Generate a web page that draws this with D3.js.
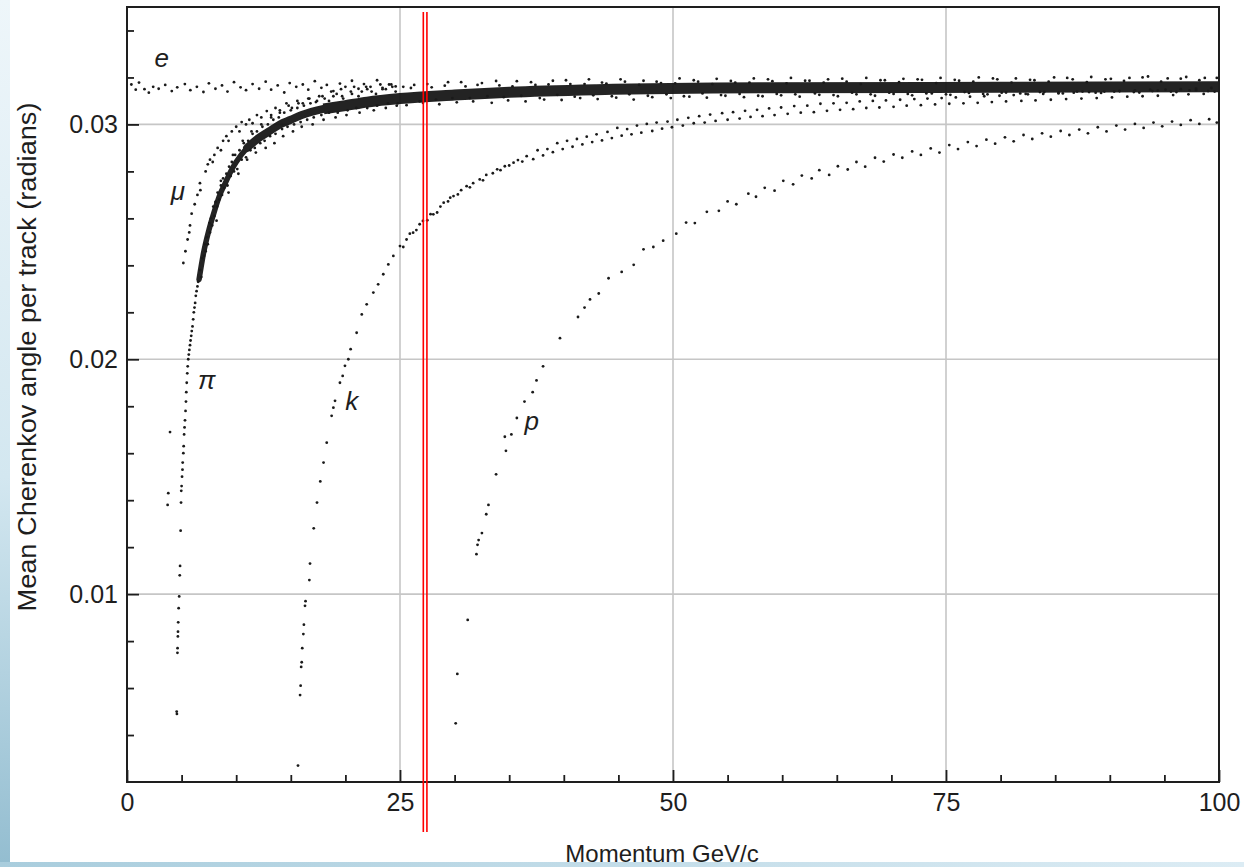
<!DOCTYPE html>
<html><head><meta charset="utf-8">
<script src="https://cdn.jsdelivr.net/npm/d3@7"></script>
<style>
body{margin:0;background:#fff}
svg{display:block}
text{font-family:"Liberation Sans",Arial,Helvetica,sans-serif;fill:#1e1e1e}
</style>
</head><body><svg id="c" width="1244" height="867"></svg>
<script>
// ---------- axes ----------
const xTickValues = [0, 25, 50, 75, 100];
const xMinorTicks = [5,10,15,20,30,35,40,45,55,60,65,70,80,85,90,95];
const yTickValues = [0.01, 0.02, 0.03];
const yMinorTicks = [0.004,0.006,0.008,0.012,0.014,0.016,0.018,0.022,0.024,0.026,0.028,0.032,0.034];
const xGrid = [25, 50, 75];
const yGrid = [0.01, 0.02, 0.03];
const xTitle = "Momentum GeV/c";
const yTitle = "Mean Cherenkov angle per track (radians)";
const markerMomentum = [27.3];

// ---------- particle labels ----------
const labelNames = ["e", "μ", "π", "k", "p"];
const labelP = [3.17, 4.67, 7.3, 20.58, 37.06];
const labelA = [0.03243, 0.02678, 0.01875, 0.01786, 0.01699];

// ---------- data [momentum GeV/c, angle rad] ----------
const electron = [[0.4,.0317],[0.8,.03148],[1.1,.03178],[1.6,.0315],[2.0,.03135],[2.4,.0316],[2.9,.03152],[3.5,.03168],[4.1,.03142],[4.6,.03158],[5.3,.03172],[5.8,.03146],[6.4,.0316],[7.0,.03138],[7.5,.03175],[8.1,.03152],[8.7,.03166],[9.2,.0314],[9.8,.0318],[10.4,.03158],[10.9,.03146],[11.5,.03172],[12.1,.03152],[12.7,.03182],[13.2,.03148],[13.8,.03166],[14.4,.03136],[14.9,.03176],[15.5,.0316],[16.1,.0317],[16.6,.03148],[17.2,.03184],[17.8,.03156],[18.3,.03168],[18.9,.03142],[19.5,.03174],[20.0,.0316],[20.6,.03186],[21.2,.03152],[21.7,.03172],[22.3,.0316],[22.9,.03188],[23.4,.03156],[24.0,.0317],[24.6,.03162]];

const muon = [[3.72,.0138],[3.78,.0143],[3.94,.0169],[5.16,.0241],[5.35,.0246],[5.55,.0251],[5.7,.0254],[5.77,.0257],[5.92,.0262],[6.2,.0266],[6.45,.0270],[6.68,.0275],[6.72,.0272],[7.2,.0280],[7.4,.0283],[7.6,.0285],[7.85,.0284],[8.0,.0287],[8.3,.0290],[8.6,.0289],[8.8,.0293],[9.1,.0295],[9.3,.0293],[9.6,.0297],[10.0,.0299],[10.3,.0297],[10.5,.0301],[10.9,.0300],[11.2,.0302],[11.5,.03005],[11.9,.0304],[12.3,.0303],[12.8,.03057],[13.2,.0304],[13.6,.0307],[14.0,.0306],[14.6,.0309],[15.1,.0307],[15.6,.0310],[16.1,.0309],[16.7,.0311],[17.3,.03095],[17.9,.0312],[18.5,.0310],[19.2,.0313],[19.8,.0311],[20.5,.0314],[21.2,.0312],[22.0,.0315],[22.8,.0313],[23.7,.0315],[24.6,.0314]];

const pionLow = [[4.55,.0050],[4.57,.0049],[4.62,.0075],[4.63,.0077],[4.66,.0082],[4.67,.0084],[4.69,.0088],[4.73,.0094],[4.78,.0099],[4.83,.0108],[4.86,.0112],[4.91,.0127],[4.95,.0139],[4.97,.0144],[5.0,.0146],[5.04,.0150],[5.08,.0153],[5.1,.0156],[5.16,.0160],[5.19,.0163],[5.23,.0168],[5.27,.0171],[5.31,.0174],[5.36,.0178],[5.4,.0182],[5.43,.0186],[5.47,.0190],[5.52,.0194],[5.56,.0197],[5.61,.0200],[5.66,.0202],[5.71,.0204],[5.77,.0206],[5.82,.0208],[5.88,.0210],[5.93,.0212],[6.0,.0214],[6.06,.0217],[6.12,.0220],[6.18,.0222],[6.24,.0224],[6.3,.0227],[6.37,.0229],[6.45,.0231],[6.52,.0233]];

// dense merged band (pion + muon + electron) centre lines
const bandLow = [[6.6,.0234],[7,.0245],[7.5,.0255],[8,.0263],[8.5,.0270],[9,.0275],[9.5,.0280],[10,.0284],[11,.0290],[12,.0294],[13,.0297],[14,.0300]];
const bandMid = [[11,.0290],[12,.0294],[13,.0297],[14,.0300],[15,.0302],[16,.0304],[18,.03066],[20,.0308],[22,.03095],[24,.03106]];
const bandHigh = [[18,.03066],[20,.0308],[22,.03095],[25,.0311],[30,.03125],[35,.03137],[43,.03148],[58,.03156],[80,.03158],[100,.0316]];

const pionBand = [[6.7,.0238],[6.8,.0235],[6.9,.0243],[7.05,.0244],[7.1,.0249],[7.2,.0246],[7.3,.0252],[7.4,.0249],[7.55,.0258],[7.6,.0254],[7.7,.0260],[7.8,.0257],[7.9,.0265],[8.0,.0261],[8.1,.0267],[8.25,.0265],[8.3,.0271],[8.45,.0268],[8.6,.0274],[8.7,.0270],[8.8,.0277],[8.9,.0273],[9.1,.0279],[9.2,.0274],[9.35,.0282],[9.5,.0278],[9.6,.0284],[9.8,.0280],[9.9,.0287],[10.1,.0281],[10.3,.0289],[10.5,.0285],[10.7,.0292],[10.9,.0286],[11.1,.0293],[11.3,.0289],[11.5,.0296],[11.7,.0290],[11.9,.0297],[12.2,.0292],[12.4,.0299],[12.6,.0293],[12.9,.0300],[13.1,.0295],[13.4,.0302],[13.6,.0296],[13.9,.0303],[14.2,.0298],[14.4,.0305],[14.7,.0299],[15.0,.0306],[15.3,.0300],[15.6,.0307],[15.9,.0301],[16.2,.0308],[16.5,.0302],[16.8,.0309],[17.1,.0303],[17.4,.0310],[17.8,.0304],[18.1,.0311],[18.5,.0305],[18.9,.0312],[19.3,.0305],[19.7,.0312],[20.2,.0306],[20.6,.0313],[21.0,.0307],[21.5,.0314],[22.0,.0307],[22.4,.0314],[22.9,.0308],[23.4,.0315],[23.9,.0309],[24.3,.0316],[24.8,.0309],[25.3,.0316],
[26,.03155],[26.8,.03098],[27.5,.03172],[28.3,.03106],[29.1,.03165],[29.8,.03112],[30.6,.0318],[31.4,.03112],[32.1,.03168],[33,.0312],[33.8,.03185],[34.5,.03116],[35.3,.03162],[36.1,.03122],[37,.0318],[37.8,.03112],[38.6,.0317],[39.4,.03126],[40.2,.03188],[41,.03118],[41.9,.03172],[42.7,.03124],[43.5,.03178],[44.4,.0312],[45.2,.03192],[46,.03128],[46.9,.03168],[47.7,.03122],[48.5,.03182],[49.4,.03128],[50.2,.03175],[51,.0312],[51.9,.03188],[52.7,.03132],[53.6,.03172],[54.4,.03125],[55.3,.03185],[56.1,.0313],[57,.03178],[57.8,.03122],[58.7,.03192],[59.5,.0313],[60.4,.03175],[61.2,.03128],[62.1,.03186],[63,.03132],[63.8,.03178],[64.7,.03125],[65.5,.03195],[66.4,.03135],[67.2,.03172],[68.1,.03128],[69,.03188],[69.8,.03135],[70.7,.0318],[71.5,.0313],[72.4,.03192],[73.2,.03132],[74.1,.03176],[75,.03128],[75.8,.0319],[76.7,.03138],[77.5,.03182],[78.4,.0313],[79.3,.03196],[80.1,.03135],[81,.03178],[81.8,.03132],[82.7,.0319],[83.6,.03138],[84.4,.03182],[85.3,.03135],[86.1,.03198],[87,.0314],[87.9,.0318],[88.7,.03135],[89.6,.03192],[90.4,.0314],[91.3,.03185],[92.2,.03138],[93,.032],[93.9,.03142],[94.7,.03182],[95.6,.0314],[96.5,.03195],[97.3,.03145],[98.2,.03188],[99,.03142],[99.8,.03198]];

const bandFuzz = [[8.2,.0259],[8.6,.0276],[9.3,.0271],[9.7,.0287],[10.2,.0279],[10.6,.0293],[11.0,.0285],[11.4,.0297],[11.8,.0288],[12.3,.0300],[12.7,.0290],[13.2,.0303],[13.5,.0292],[14.0,.0305],[14.3,.0295],[14.8,.0308],[15.2,.0297],[15.7,.0309],[16.0,.0299],[16.6,.0311],[17.0,.0300],[17.6,.0312],[18.0,.0302],[18.7,.0314],[19.1,.0303],[19.6,.0315],[20.1,.0304],[20.8,.0316],[21.3,.0305],[21.9,.0316],[22.6,.0306],[23.2,.0317],[23.7,.0307],[24.2,.0317],[24.7,.0308],
[25.6,.03082],[26.3,.03168],[27.1,.03092],[27.9,.03158],[28.6,.03086],[29.4,.0318],[30.2,.03094],[31.0,.03162],[31.7,.03098],[32.5,.03176],[33.4,.03092],[34.1,.03166],[34.9,.03102],[35.7,.03184],[36.5,.03098],[37.4,.03168],[38.2,.03106],[39.0,.03186],[39.8,.03104],[40.6,.03172],[41.5,.03112],[42.3,.03192],[43.1,.03108],[43.9,.03174],[44.8,.03114],[45.6,.03182],[46.4,.03106],[47.3,.03186],[48.1,.03116],[48.9,.03176],[49.8,.03112],[50.6,.03196],[51.5,.03118],[52.3,.03182],[53.1,.03114],[54.0,.03194],[54.8,.03122],[55.7,.03178],[56.5,.03116],[57.4,.03196],[58.2,.0312],[59.1,.03184],[59.9,.03124],[60.8,.03198],[61.6,.03118],[62.5,.03186],[63.4,.03126],[64.2,.03192],[65.1,.0312],[65.9,.03182],[66.8,.03128],[67.7,.03198],[68.5,.03122],[69.4,.03188],[70.2,.0313],[71.1,.03194],[71.9,.03124],[72.8,.0319],[73.7,.03132],[74.5,.03198],[75.4,.03126],[76.2,.03186],[77.1,.03134],[78.0,.032],[78.8,.03128],[79.7,.03192],[80.5,.03136],[81.4,.03196],[82.3,.0313],[83.1,.03188],[84.0,.03138],[84.9,.032],[85.7,.03132],[86.6,.03192],[87.5,.0314],[88.3,.03202],[89.2,.03134],[90.1,.03194],[90.9,.03142],[91.8,.03198],[92.7,.03136],[93.5,.03204],[94.4,.03144],[95.3,.03196],[96.1,.03138],[97.0,.03202],[97.9,.03146],[98.7,.03198],[99.6,.0314]];

const kaon = [[15.66,.0027],[15.85,.0057],[15.9,.0061],[15.95,.0069],[16.0,.0071],[16.05,.0077],[16.15,.0083],[16.2,.0087],[16.3,.0095],[16.35,.0097],[16.7,.0106],[16.76,.0113],[17.1,.0128],[17.4,.0139],[17.7,.0148],[18.0,.0156],[18.29,.01645],[18.74,.01759],[18.9,.01794],[19.05,.01823],[19.5,.0190],[19.75,.01929],[19.96,.01972],[20.27,.0200],[20.48,.02043],[21.03,.02113],[21.5,.02191],[21.95,.02234],[22.56,.02284],[23.0,.02319],[23.47,.02362],[23.93,.02404],[24.39,.0244],[25.0,.02482],[25.3,.02478],[25.6,.0251],[25.9,.02535],[26.2,.02539],[26.5,.0255],[26.8,.02575],[27.1,.02589],[27.5,.02592],[27.8,.02618],[28.05,.02617],[28.4,.02625],[28.7,.0265],[29.0,.02667],[29.4,.02672],[29.6,.02688],[29.9,.02695],[30.3,.02702],[30.6,.0272],[31.1,.02737],[31.4,.02732],[31.7,.0275],[32.3,.02766],[32.6,.02762],[32.9,.02785],[33.5,.02792],[33.9,.02809],[34.2,.02805],[34.6,.02822],[35.0,.02825],[35.4,.02837],[35.8,.02848],[36.2,.02842],[36.6,.02865],[37.2,.02852],[37.6,.0289],[38.1,.02868],[38.5,.02895],[39,.02882],[39.4,.0292],[39.9,.02895],[40.3,.0293],[40.8,.02905],[41.2,.02938],[41.7,.02915],[42.1,.02948],[42.6,.02925],[43,.02958],[43.5,.02932],[44,.02968],[44.4,.02942],[44.9,.02985],[45.3,.02952],[45.8,.0298],[46.2,.02958],[46.7,.02995],[47.1,.02965],[47.6,.03002],[48.1,.02972],[48.5,.03008],[49,.02982],[49.5,.03012],[49.9,.02988],[50.4,.0302],[50.9,.02995],[51.4,.03028],[51.9,.03005],[52.4,.03035],[52.9,.03008],[53.4,.03042],[53.9,.03015],[54.5,.03048],[55,.0302],[55.5,.03052],[56.1,.03025],[56.6,.03058],[57.1,.03032],[57.7,.03062],[58.2,.03035],[58.8,.03068],[59.3,.0304],[59.9,.03072],[60.5,.03045],[61.1,.03078],[61.7,.0305],[62.3,.0308],[62.9,.03052],[63.5,.03088],[64.1,.03058],[64.7,.0309],[65.3,.03062],[65.9,.03092],[66.5,.03065],[67.1,.03098],[67.7,.0307],[68.3,.031],[68.9,.03072],[69.5,.03102],[70.2,.03075],[70.8,.03105],[71.4,.0308],[72.1,.03108],[72.7,.03082],[73.3,.0311],[74,.03085],[74.6,.03112],[75.3,.03088],[75.9,.03115],[76.6,.0309],[77.2,.03118],[77.9,.03092],[78.5,.0312],[79.2,.03095],[79.9,.03122],[80.5,.03098],[81.2,.03125],[81.9,.031],[82.5,.03128],[83.2,.03102],[83.9,.0313],[84.6,.03105],[85.3,.03132],[86,.03108],[86.7,.03135],[87.4,.0311],[88.1,.03138],[88.8,.03112],[89.5,.0314],[90.2,.03115],[90.9,.03142],[91.6,.03118],[92.3,.03145],[93,.0312],[93.7,.03148],[94.4,.03122],[95.1,.03148],[95.8,.03125],[96.5,.0315],[97.2,.03128],[97.9,.03152],[98.6,.0313],[99.3,.03155]];

const proton = [[30.1,.0045],[30.25,.0066],[31.2,.0089],[32.0,.0117],[32.1,.0121],[32.2,.0123],[32.5,.0126],[32.9,.0134],[33.1,.0138],[33.8,.0151],[34.6,.0167],[34.7,.0161],[35.2,.0168],[35.7,.0175],[36.4,.0182],[37.15,.0186],[37.5,.0191],[38.1,.0197],[39.65,.0209],[41.3,.0218],[41.9,.0222],[42.4,.02255],[43.2,.0228],[44.1,.02345],[45.3,.02372],[46.4,.02402],[47.3,.02468],[48.2,.02478],[49.1,.02505],[50.3,.02535],[51.2,.02582],[52.0,.0258],[53.1,.02628],[54.2,.02632],[55.0,.02672],[55.8,.0266],[56.9,.02705],[57.6,.02692],[58.4,.0273],[59.3,.02718],[60.1,.0276],[61.0,.02745],[61.8,.02782],[62.7,.0277],[63.4,.02805],[64.3,.02785],[65.1,.02822],[66.0,.02808],[66.8,.0284],[67.6,.0282],[68.5,.02858],[69.3,.02842],[70.2,.02872],[71.0,.02858],[71.9,.02885],[72.7,.0287],[73.6,.02898],[74.4,.0288],[75.3,.02912],[76.1,.02895],[77.0,.02925],[77.8,.02908],[78.7,.02935],[79.5,.02918],[80.4,.02945],[81.2,.02928],[82.1,.02955],[82.9,.02938],[83.8,.02962],[84.6,.02948],[85.5,.02972],[86.3,.02955],[87.2,.02978],[88.0,.02962],[88.9,.02988],[89.7,.0297],[90.6,.02995],[91.4,.02978],[92.3,.03002],[93.1,.02985],[94.0,.03008],[94.8,.02992],[95.7,.03012],[96.5,.02998],[97.4,.03018],[98.2,.03002],[99.1,.03022],[99.8,.03008]];

// ---------- drawing ----------
const svg = d3.select("#c");
const W = 1244, H = 867;
const x = d3.scaleLinear().domain([0, 100]).range([127, 1219]);
const y = d3.scaleLinear().domain([0.002, 0.035]).range([782, 7]);

const defs = svg.append("defs");
const gl = defs.append("linearGradient").attr("id","gl").attr("x1",0).attr("y1",0).attr("x2",0).attr("y2",1);
gl.append("stop").attr("offset","0%").attr("stop-color","#eef6fa");
gl.append("stop").attr("offset","55%").attr("stop-color","#d3e7f0");
gl.append("stop").attr("offset","100%").attr("stop-color","#93bdd0");
const gb = defs.append("linearGradient").attr("id","gb").attr("x1",0).attr("y1",0).attr("x2",1).attr("y2",0);
gb.append("stop").attr("offset","0%").attr("stop-color","#a9cddd");
gb.append("stop").attr("offset","100%").attr("stop-color","#dcecf4");

svg.append("rect").attr("width",W).attr("height",H).attr("fill","#fff");
svg.append("rect").attr("x",0).attr("y",0).attr("width",10).attr("height",H).attr("fill","url(#gl)");
svg.append("rect").attr("x",0).attr("y",862).attr("width",W).attr("height",5).attr("fill","url(#gb)");

// grid
const grid = svg.append("g").attr("stroke","#c6c6c6").attr("stroke-width",1.6);
grid.selectAll(".gx").data(xGrid).join("line").attr("x1",d=>x(d)).attr("x2",d=>x(d)).attr("y1",y(0.035)).attr("y2",y(0.002));
grid.selectAll(".gy").data(yGrid).join("line").attr("y1",d=>y(d)).attr("y2",d=>y(d)).attr("x1",x(0)).attr("x2",x(100));

// dense band
const line = d3.line().x(d=>x(d[0])).y(d=>y(d[1])).curve(d3.curveMonotoneX);
const bandG = svg.append("g").attr("fill","none").attr("stroke","#111").attr("opacity",0.92);
bandG.append("path").attr("d",line(bandHigh)).attr("stroke-width",11).attr("stroke-linecap","butt");
bandG.append("path").attr("d",line(bandMid)).attr("stroke-width",8).attr("stroke-linecap","round");
bandG.append("path").attr("d",line(bandLow)).attr("stroke-width",5.5).attr("stroke-linecap","round");

// points
const series = [electron, muon, pionLow, pionBand, bandFuzz, kaon, proton];
const pts = svg.append("g").attr("fill","#1a1a1a");
series.forEach(s => {
  pts.append("g").selectAll("circle").data(s).join("circle")
    .attr("cx",d=>x(d[0])).attr("cy",d=>y(d[1])).attr("r",1.4);
});

// axes
const fs = "25px";
const ax = svg.append("g").attr("transform",`translate(0,${y(0.002)})`)
  .call(d3.axisBottom(x).tickValues(xTickValues).tickSize(-12).tickSizeOuter(0).tickPadding(11).tickFormat(d3.format("d")));
const axm = svg.append("g").attr("transform",`translate(0,${y(0.002)})`)
  .call(d3.axisBottom(x).tickValues(xMinorTicks).tickSize(-7).tickSizeOuter(0).tickFormat(""));
const ay = svg.append("g").attr("transform",`translate(${x(0)},0)`)
  .call(d3.axisLeft(y).tickValues(yTickValues).tickSize(-12).tickSizeOuter(0).tickPadding(9).tickFormat(d3.format(".2f")));
const aym = svg.append("g").attr("transform",`translate(${x(0)},0)`)
  .call(d3.axisLeft(y).tickValues(yMinorTicks).tickSize(-7).tickSizeOuter(0).tickFormat(""));
[ax,axm,ay,aym].forEach(g=>{
  g.select(".domain").remove();
  g.selectAll(".tick line").attr("stroke","#1e1e1e").attr("stroke-width",1.8);
  g.selectAll("text").attr("font-size",fs).attr("font-family","Liberation Sans, Arial, sans-serif").attr("fill","#1e1e1e");
});

// frame
svg.append("rect").attr("x",x(0)).attr("y",y(0.035)).attr("width",x(100)-x(0)).attr("height",y(0.002)-y(0.035))
  .attr("fill","none").attr("stroke","#1e1e1e").attr("stroke-width",2);

// titles
svg.append("text").attr("x",662).attr("y",862).attr("text-anchor","middle").attr("font-size","24px").text(xTitle);
svg.append("text").attr("transform","translate(36,357) rotate(-90)").attr("text-anchor","middle")
  .attr("font-size","26px").attr("textLength",509).attr("lengthAdjust","spacingAndGlyphs").text(yTitle);

// particle labels
svg.append("g").selectAll("text").data(labelNames).join("text")
  .attr("x",(d,i)=>x(labelP[i])).attr("y",(d,i)=>y(labelA[i]))
  .attr("text-anchor","middle").attr("font-size","26px").attr("font-style","italic").text(d=>d);

// red marker
const red = svg.append("g").attr("stroke","#ff0000").attr("stroke-width",1.6);
markerMomentum.forEach(m=>{
  [-1.8,1.8].forEach(o=>{
    red.append("line").attr("x1",x(m)+o).attr("x2",x(m)+o).attr("y1",12).attr("y2",832);
  });
});
</script>
</body></html>
